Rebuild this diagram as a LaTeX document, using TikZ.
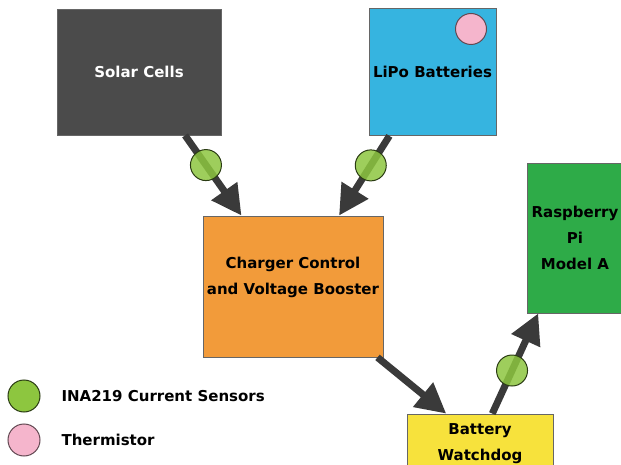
\documentclass[tikz,border=0pt]{standalone}
\usepackage{fontspec}
\setmainfont{DejaVu Sans}
\usetikzlibrary{arrows.meta}
\definecolor{solargray}{HTML}{4B4B4B}
\definecolor{lipoblue}{HTML}{36B4E0}
\definecolor{chargerorange}{HTML}{F29B3A}
\definecolor{pigreen}{HTML}{2EAB48}
\definecolor{dogyellow}{HTML}{F7E23C}
\definecolor{sensorgreen}{HTML}{8DC63F}
\definecolor{thermpink}{HTML}{F5B5CC}
\definecolor{arrowgray}{HTML}{3A3A3A}
\tikzset{
  blocknode/.style = {rectangle, draw=black!60, line width=0.8pt, align=center,
    font=\fontsize{15}{26}\selectfont\bfseries},
  sensornode/.style = {circle, draw=black!70!sensorgreen, line width=1pt,
    fill=sensorgreen, fill opacity=0.85, minimum size=31pt, inner sep=0pt},
  thermnode/.style = {sensornode, draw=black!60!thermpink, fill=thermpink,
    fill opacity=1},
  legendnode/.style = {anchor=west, font=\fontsize{15}{18}\selectfont\bfseries},
  flow/.style = {arrowgray, line width=7pt,
    -{Triangle[width=30pt,length=30pt]}},
}

\begin{document}
\begin{tikzpicture}[x=1pt,y=-1pt]
    \useasboundingbox (0,0) rectangle (621,465);
    % blocks
    \node [blocknode, fill=solargray, text=white, minimum width=164pt,
      minimum height=126pt] (solar) at (139,72) {Solar Cells};
    \node [blocknode, fill=lipoblue, minimum width=127pt,
      minimum height=127pt] (lipo) at (432.5,72) {LiPo Batteries};
    \node [thermnode] (therm) at (471,29) {};
    \node [blocknode, fill=chargerorange, minimum width=180pt,
      minimum height=141pt,
      label={[blocknode, draw=none, yshift=9pt]center:Charger Control\\and Voltage Booster}]
      (charger) at (293,286.5) {};
    \node [blocknode, fill=pigreen, minimum width=96pt,
      minimum height=150pt] (rpi) at (575,238) {Raspberry\\Pi\\Model A};
    \node [blocknode, fill=dogyellow, minimum width=146pt,
      minimum height=60pt] (dog) at (480,444) {Battery\\Watchdog};
    % connectors
    \draw [flow] (solar.-54) -- node [sensornode, pos=0.37] (sensA) {} (charger.126);
    \draw [flow] (lipo.-124) -- node [sensornode, pos=0.37] (sensB) {} (charger.57);
    \draw [flow] (charger.-40) -- (dog.138);
    \draw [flow] (dog.68) -- node [sensornode, pos=0.43] (sensC) {} (rpi.-116);
    % legend
    \node [sensornode, fill opacity=1, minimum size=32pt] (keysens) at (24,396) {};
    \node [thermnode, minimum size=32pt] (keytherm) at (24,440) {};
    \node [legendnode] (keysenstext) at (58,396) {INA219 Current Sensors};
    \node [legendnode] (keythermtext) at (58,440) {Thermistor};
  \end{tikzpicture}
\end{document}
